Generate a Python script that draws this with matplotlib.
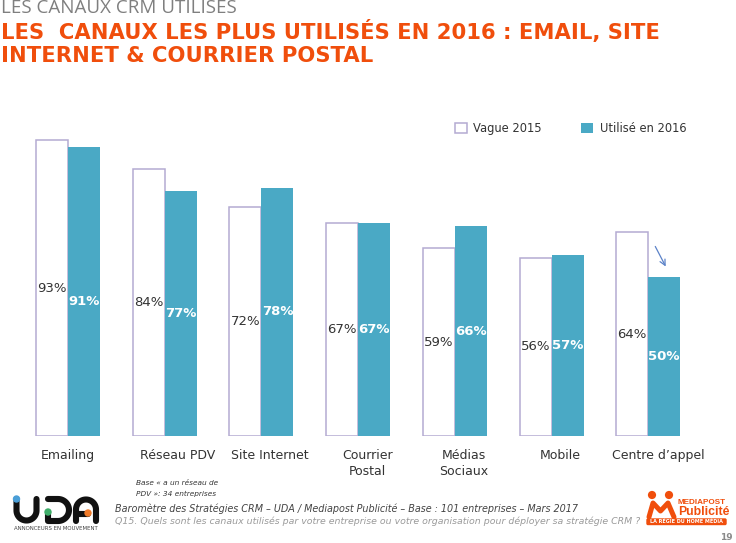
import numpy as np
import matplotlib
matplotlib.use("Agg")
import matplotlib.pyplot as plt
from matplotlib.patches import Circle, FancyBboxPatch
from matplotlib.transforms import ScaledTranslation

W, H = 736, 543

categories = ["Emailing", "Réseau PDV", "Site Internet", "Courrier\nPostal",
              "Médias\nSociaux", "Mobile", "Centre d’appel"]
vague_2015 = [93, 84, 72, 67, 59, 56, 64]
utilise_2016 = [91, 77, 78, 67, 66, 57, 50]

ORANGE = "#F04E0C"
TEAL = "#4AA9C5"
LAVENDER = "#B4ABD2"
GREY = "#7F7F7F"
TEXT = "#333333"


def fx(px):
    return px / W


def fy(py):
    return 1 - py / H


def arc(cx, cy, r, a0, a1):
    t = np.radians(np.linspace(a0, a1, 30))
    return cx + r * np.cos(t), cy + r * np.sin(t)


fig = plt.figure(figsize=(W / 100, H / 100), dpi=100, facecolor="white")

# one unit on x is one group, 96.7 px wide; group 0 is centred on x=68 px
left, right = 20, 700
unit = 96.7
top, base = 100, 436
ax = fig.add_axes([fx(left), fy(base), (right - left) / W, (base - top) / H])
ax.set_xlim((left - 68) / unit, (right - 68) / unit)
ax.set_ylim(0, (base - top) / 3.18)
ax.patch.set_alpha(0)

bar_w = 32 / unit
xs = list(range(len(categories)))
b1 = ax.bar([x - bar_w / 2 for x in xs], vague_2015, bar_w, color="white",
            edgecolor=LAVENDER, linewidth=1.1, label="Vague 2015")
b2 = ax.bar([x + bar_w / 2 for x in xs], utilise_2016, bar_w, color=TEAL,
            label="Utilisé en 2016")

ax.bar_label(b1, labels=[f"{v}%" for v in vague_2015], label_type="center",
             fontsize=9.5, color=TEXT)
labels2 = ax.bar_label(b2, labels=[f"{v}%" for v in utilise_2016], label_type="center",
                       fontsize=9.5, color="white", fontweight="bold")
# first label sits a bit lower in the original
labels2[0].set_y(-7)

for s in ax.spines.values():
    s.set_visible(False)
ax.set_yticks([])
ax.set_xticks(xs)
ax.set_xticklabels(categories, fontsize=9, color=TEXT, linespacing=1.3)
ax.tick_params(axis="x", length=0, pad=9.5)

# category labels are not centred under their groups in the original
for lab, dx_px in zip(ax.get_xticklabels(), [0, 13, 8, 9, 9, 9, 10]):
    lab.set_transform(lab.get_transform() + ScaledTranslation(dx_px / 100, 0, fig.dpi_scale_trans))

ax.legend(loc="upper left", bbox_to_anchor=(fx(455), fy(122)),
          bbox_transform=fig.transFigure, ncols=2, frameon=False, fontsize=8.3,
          handlelength=1.05, handleheight=1.05, handletextpad=0.55,
          columnspacing=3.4, borderpad=0, borderaxespad=0, labelcolor=TEXT)

# decrease arrow on the last group
ax.annotate("", xy=(6 + (667 - 648.2) / unit, (base - 269) / 3.18),
            xytext=(6 + (654 - 648.2) / unit, (base - 244) / 3.18),
            arrowprops=dict(arrowstyle="->", color="#5B82C8", lw=0.9))

# titles
fig.text(fx(1), fy(8), "LES CANAUX CRM UTILISÉS", family="Open Sans", fontsize=13.5,
         color=GREY, va="center", ha="left")
fig.text(fx(1), fy(31), "LES  CANAUX LES PLUS UTILISÉS EN 2016 : EMAIL, SITE",
         fontsize=15.2, fontweight="bold", color=ORANGE, va="center", ha="left")
fig.text(fx(1), fy(56), "INTERNET & COURRIER POSTAL",
         fontsize=15.2, fontweight="bold", color=ORANGE, va="center", ha="left")

# footer
fig.text(fx(136), fy(483), "Base « a un réseau de", fontsize=5.3, style="italic",
         color=TEXT, va="center")
fig.text(fx(136), fy(494), "PDV »: 34 entreprises", fontsize=5.3, style="italic",
         color=TEXT, va="center")
fig.text(fx(115), fy(509),
         "Baromètre des Stratégies CRM – UDA / Mediapost Publicité – Base : 101 entreprises – Mars 2017",
         fontsize=6.9, style="italic", color="#444444", va="center")
fig.text(fx(115), fy(521),
         "Q15. Quels sont les canaux utilisés par votre entreprise ou votre organisation pour déployer sa stratégie CRM ?",
         fontsize=6.75, style="italic", color="#9A9A9A", va="center")
fig.text(fx(733), fy(537), "19", fontsize=6.5, fontweight="bold", color="#8A8A8A",
         va="center", ha="right")

# logos sketched on a pixel overlay
ov = fig.add_axes([0, 0, 1, 1], zorder=5)
ov.set_xlim(0, W)
ov.set_ylim(H, 0)
ov.axis("off")

# UDA letters as thick strokes
ink = dict(color="#111111", lw=4.4, solid_capstyle="round")
ux, uy = arc(26.5, 510.5, 10, 180, 0)
ov.plot([16.5, *ux, 36.5], [499, *uy, 499], **ink)
dx, dy = arc(58, 510, 11, -90, 90)
ov.plot([48, *dx, 48, 48], [499, *dy, 521, 512], **ink)
ax_, ay_ = arc(86, 509.5, 10, 180, 360)
ov.plot([76, *ax_, 96], [521, *ay_, 521], **ink)
ov.plot([76, 88], [514, 514], **ink)
ov.text(56, 529, "ANNONCEURS EN MOUVEMENT", fontsize=3.9, color="#444444",
        ha="center", va="center")
ov.add_patch(Circle((16.5, 499), 3, color="#4A9FD8", zorder=6))
ov.add_patch(Circle((48, 512), 3, color="#3FAE6A", zorder=6))
ov.add_patch(Circle((88, 513), 3, color="#F07A28", zorder=6))

# Mediapost figures
ov.add_patch(Circle((652, 495), 3.4, color=ORANGE))
ov.add_patch(Circle((669, 495), 3.4, color=ORANGE))
ov.plot([649, 653, 660.5, 668, 674], [517, 503, 511, 503, 517], color=ORANGE, lw=3.6,
        solid_capstyle="round", solid_joinstyle="round")
ov.text(678, 502, "MEDIAPOST", fontsize=5.9, fontweight="bold", color=ORANGE,
        va="center", family="Liberation Sans")
ov.text(678, 512, "Publicité", fontsize=8.8, fontweight="bold", color=ORANGE,
        va="center", family="Liberation Sans")
ov.add_patch(FancyBboxPatch((648, 520), 77, 3.5, boxstyle="round,pad=1", color=ORANGE))
ov.text(686.5, 521.8, "LA RÉGIE DU HOME MÉDIA", fontsize=3.5, color="white", ha="center",
        va="center", fontweight="bold")

fig.savefig("out.png", dpi=100, facecolor="white")
plt.close(fig)
